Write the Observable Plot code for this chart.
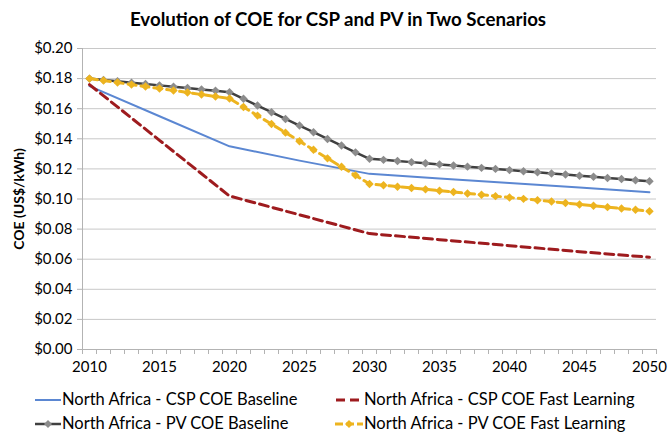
<!DOCTYPE html>
<html>
<head>
<meta charset="utf-8">
<script src="https://cdn.jsdelivr.net/npm/d3@7"></script>
<script src="https://cdn.jsdelivr.net/npm/@observablehq/plot@0.6"></script>
<style>
  html, body { margin: 0; padding: 0; background: #fff; }
  #wrap { position: relative; width: 670px; height: 435px; overflow: hidden; font-family: Lato, "Liberation Sans", sans-serif; }
  #title { position: absolute; top: 8px; left: 0; width: 676px; text-align: center; font-weight: bold; font-size: 18.7px; color: #000; }
  #chart { position: absolute; top: 0; left: 0; }
  #ylabel { position: absolute; left: 18px; top: 199px; transform: translate(-50%, -50%) rotate(-90deg); font-weight: bold; font-size: 14px; white-space: nowrap; }
  .leg { position: absolute; font-size: 16.5px; line-height: 19px; white-space: nowrap; display: flex; align-items: center; }
  .leg svg { display: block; }
</style>
</head>
<body>
<div id="wrap">
  <div id="chart"></div>
  <div id="title">Evolution of COE for CSP and PV in Two Scenarios</div>
  <div id="ylabel">COE (US$/kWh)</div>
  <div id="legend"></div>
</div>
<script>
// ---- Data ----
const seriesNames = [
  "North Africa - CSP COE Baseline",
  "North Africa - CSP COE Fast Learning",
  "North Africa - PV COE Baseline",
  "North Africa - PV COE Fast Learning"
];
const cspYears = [2010, 2015, 2020, 2025, 2030, 2035, 2040, 2045, 2050];
const cspBaseline = [0.175, 0.155, 0.135, 0.1255, 0.1167, 0.1137, 0.1107, 0.1076, 0.1045];
const cspFast = [0.176, 0.139, 0.102, 0.0895, 0.077, 0.073, 0.069, 0.065, 0.0613];
const pvYears = [2010, 2011, 2012, 2013, 2014, 2015, 2016, 2017, 2018, 2019, 2020,
  2021, 2022, 2023, 2024, 2025, 2026, 2027, 2028, 2029, 2030,
  2031, 2032, 2033, 2034, 2035, 2036, 2037, 2038, 2039, 2040,
  2041, 2042, 2043, 2044, 2045, 2046, 2047, 2048, 2049, 2050];
const pvBaseline = [0.180, 0.1791, 0.1782, 0.1773, 0.1764, 0.1755, 0.1746, 0.1737, 0.1728, 0.1719, 0.171,
  0.1666, 0.1621, 0.1577, 0.1532, 0.1488, 0.1444, 0.1399, 0.1355, 0.1310, 0.1267,
  0.1260, 0.1252, 0.1245, 0.1237, 0.1230, 0.1222, 0.1215, 0.1207, 0.1200, 0.1192,
  0.1185, 0.1178, 0.1170, 0.1163, 0.1155, 0.1148, 0.1140, 0.1133, 0.1125, 0.1118];
const pvFast = [0.180, 0.1787, 0.1774, 0.1760, 0.1747, 0.1734, 0.1721, 0.1708, 0.1694, 0.1681, 0.1668,
  0.1611, 0.1554, 0.1498, 0.1441, 0.1384, 0.1327, 0.1270, 0.1214, 0.1157, 0.110,
  0.1091, 0.1082, 0.1073, 0.1064, 0.1055, 0.1046, 0.1037, 0.1028, 0.1019, 0.1010,
  0.1001, 0.0992, 0.0983, 0.0973, 0.0964, 0.0955, 0.0946, 0.0937, 0.0928, 0.0919];
const yTicks = [0, 0.02, 0.04, 0.06, 0.08, 0.10, 0.12, 0.14, 0.16, 0.18, 0.20];
const xTickLabels = [2010, 2015, 2020, 2025, 2030, 2035, 2040, 2045, 2050];

// ---- Build tables ----
const cspBaseData = cspYears.map((y, i) => ({year: y, v: cspBaseline[i]}));
const cspFastData = cspYears.map((y, i) => ({year: y, v: cspFast[i]}));
const pvBaseData = pvYears.map((y, i) => ({year: y, v: pvBaseline[i]}));
const pvFastData = pvYears.map((y, i) => ({year: y, v: pvFast[i]}));
const boundaries = [pvYears[0] - 0.5, ...pvYears.map(y => y + 0.5)];

const colors = {
  cspBase: "#5b87d2",
  cspFast: "#9e1b1e",
  pvBaseLine: "#404040",
  pvBaseMark: "#8c8c8c",
  pvFast: "#edb41f"
};
const axisGray = "#b3b3b3";

const chart = Plot.plot({
  width: 670,
  height: 380,
  marginLeft: 82,
  marginRight: 14,
  marginTop: 48,
  marginBottom: 31,
  style: {fontFamily: "Lato, 'Liberation Sans', sans-serif", background: "white"},
  x: {domain: [2009.5, 2050.5], axis: null},
  y: {domain: [0, 0.2], axis: null},
  marks: [
    Plot.ruleY(yTicks.slice(1), {stroke: "#c8c8c8", strokeWidth: 1}),
    Plot.ruleX([2009.5], {stroke: axisGray}),
    Plot.ruleY([0], {stroke: axisGray}),
    Plot.axisY({ticks: yTicks, tickFormat: d => "$" + d.toFixed(2), tickSize: 5, tickPadding: 5,
      stroke: axisGray, fill: "#000", fontSize: 15, label: null}),
    Plot.axisX({ticks: boundaries, tickFormat: () => "", tickSize: 5, stroke: axisGray, label: null}),
    Plot.axisX({ticks: xTickLabels, tickFormat: d => String(d), tickSize: 0, tickPadding: 12,
      fill: "#000", fontSize: 15, label: null}),
    Plot.line(cspBaseData, {x: "year", y: "v", stroke: colors.cspBase, strokeWidth: 2}),
    Plot.line(cspFastData, {x: "year", y: "v", stroke: colors.cspFast, strokeWidth: 3, strokeDasharray: "9,5"}),
    Plot.line(pvBaseData, {x: "year", y: "v", stroke: colors.pvBaseLine, strokeWidth: 2.5}),
    Plot.dot(pvBaseData, {x: "year", y: "v", symbol: "diamond2", r: 3.8, fill: colors.pvBaseMark, stroke: "none"}),
    Plot.line(pvFastData, {x: "year", y: "v", stroke: colors.pvFast, strokeWidth: 3, strokeDasharray: "8,5"}),
    Plot.dot(pvFastData, {x: "year", y: "v", symbol: "diamond2", r: 3.8, fill: colors.pvFast, stroke: "none"})
  ]
});
document.getElementById("chart").appendChild(chart);

// ---- Legend ----
const legendItems = [
  {name: seriesNames[0], left: 35, top: 390, sym: `<line x1="0" y1="6" x2="26" y2="6" stroke="${colors.cspBase}" stroke-width="2"/>`},
  {name: seriesNames[1], left: 335, top: 390, sym: `<line x1="1" y1="6" x2="28" y2="6" stroke="${colors.cspFast}" stroke-width="3" stroke-dasharray="9,5"/>`},
  {name: seriesNames[2], left: 35, top: 414, sym: `<line x1="0" y1="6" x2="26" y2="6" stroke="${colors.pvBaseLine}" stroke-width="2.5"/><path d="M13,2 L17,6 L13,10 L9,6Z" fill="${colors.pvBaseMark}"/>`},
  {name: seriesNames[3], left: 335, top: 414, sym: `<line x1="0" y1="6" x2="28" y2="6" stroke="${colors.pvFast}" stroke-width="3" stroke-dasharray="8,3"/><path d="M14,2 L18,6 L14,10 L10,6Z" fill="${colors.pvFast}"/>`}
];
const leg = document.getElementById("legend");
legendItems.forEach(it => {
  const w = it.left < 100 ? 27 : 29;
  const d = document.createElement("div");
  d.className = "leg";
  d.style.left = it.left + "px";
  d.style.top = it.top + "px";
  d.innerHTML = `<svg width="${w}" height="12">${it.sym}</svg><span>${it.name}</span>`;
  leg.appendChild(d);
});
</script>
</body>
</html>
